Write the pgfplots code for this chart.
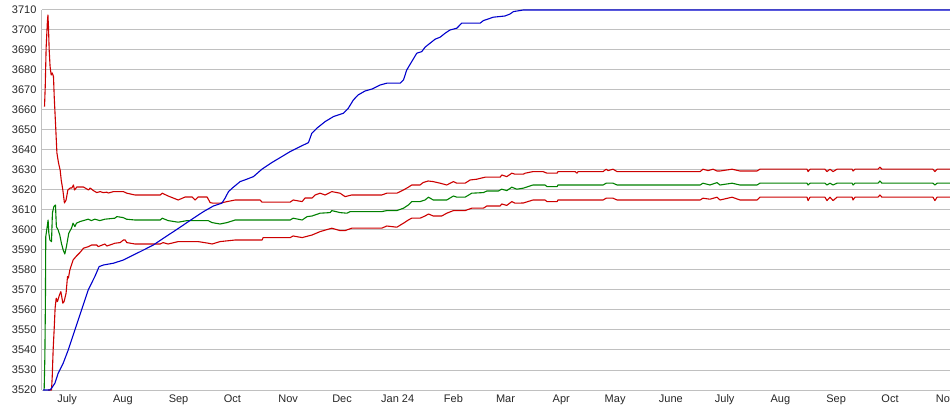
\documentclass[border=0pt]{standalone}
\usepackage{pgfplots}
\pgfplotsset{compat=1.18}
\usepackage{fontspec}
\setmainfont{Liberation Sans}
\definecolor{cred}{RGB}{204,0,0}
\definecolor{cgreen}{RGB}{0,128,0}
\definecolor{cblue}{RGB}{0,0,204}
\definecolor{cgrid}{RGB}{192,192,192}
\begin{document}
\begin{tikzpicture}
\begin{axis}[
  scale only axis, width=908pt, height=380pt,
  xmin=-14, xmax=491.4, ymin=3520, ymax=3710,
  axis x line*=bottom, axis y line*=left,
  axis line style={-, cgrid, line width=1pt},
  ymajorgrids, grid style={cgrid, line width=1pt},
  tick style={draw=none},
  ytick={3520,3530,...,3710},
  xtick={0,31,62,92,123,153,184,215,244,275,305,336,366,397,428,458,489},
  xticklabels={July,Aug,Sep,Oct,Nov,Dec,Jan 24,Feb,Mar,Apr,May,June,July,Aug,Sep,Oct,Nov},
  /pgf/number format/assume math mode=true,
  yticklabel={\pgfmathprintnumber[fixed,1000 sep={}]{\tick}},
  ticklabel style={font=\fontsize{11}{13}\selectfont, text=black!85},
  yticklabel style={xshift=-2pt},
  xticklabel style={yshift=-1pt},
  clip=false,
  every axis plot/.append style={line width=1.1pt, line join=round, mark=none},
]
% upper red
\addplot[cred] coordinates {
(-12.6,3661.7)(-12.2,3671.5)(-11.7,3691)(-11.0,3704.2)(-10.7,3707.5)(-10.4,3701.7)(-10.0,3690)(-9.5,3681.7)(-8.9,3677.5)(-8.3,3678.5)(-7.6,3676.7)(-7.2,3666.7)(-6.3,3650)(-5.7,3638.5)(-4.8,3633.5)(-3.9,3630)(-3.3,3625)(-2.4,3620)(-1.5,3613.5)(-0.6,3615)(0.4,3620)(1.7,3621)(2.6,3621)(3.5,3622.5)(4.1,3620)(5.4,3621.5)(9.1,3621.5)(11.9,3620)(12.8,3621)(14.6,3619.7)(16.5,3618.7)(18.4,3619.2)(20.0,3618.7)(22.1,3618.9)(23.0,3618.5)(25.8,3619.2)(31.3,3619.2)(33.2,3618.4)(37.8,3617.5)(51.8,3617.5)(52.9,3618.4)(56.2,3617)(61.8,3615)(65.7,3616.5)(69.6,3616.5)(71.2,3615)(72.9,3616.5)(77.9,3616.5)(79.6,3613.7)(81.2,3613.4)(85.1,3613.4)(89.0,3614.2)(93.5,3615)(107.4,3615)(108.5,3613.9)(124.1,3613.9)(125.8,3615)(130.8,3614.2)(132.4,3616)(136.3,3616)(138.0,3617.5)(140.8,3618.4)(143.6,3617.5)(147.3,3619.2)(151.9,3618.4)(154.7,3616.7)(158.4,3617.5)(175.1,3617.5)(177.9,3618.4)(183.5,3618.4)(187.2,3620)(189.9,3621.4)(191.8,3622.5)(196.4,3622.5)(198.1,3623.7)(200.9,3624.5)(203.7,3624.2)(207.6,3623.4)(211.3,3622.5)(215.0,3624.2)(216.9,3623.4)(221.5,3623.4)(224.3,3625)(228.0,3625.4)(232.6,3626.4)(241.0,3626.4)(241.9,3627.5)(244.7,3626.7)(247.5,3628.4)(249.3,3627.9)(253.9,3627.9)(254.9,3628.4)(259.3,3629.2)(264.9,3629.2)(267.1,3628.4)(272.7,3628.4)(273.2,3629.2)(282.7,3629.2)(283.8,3628.4)(284.4,3629.2)(298.3,3629.2)(300.0,3630.4)(301.1,3629.7)(303.8,3630.4)(306.1,3629.2)(352.3,3629.2)(353.9,3630.4)(356.7,3629.7)(359.5,3630.4)(361.7,3629.5)(363.4,3629.5)(370.1,3630.4)(374.5,3629.5)(384.0,3629.5)(385.6,3630.4)(411.8,3630.4)(412.4,3629.2)(413.5,3630.4)(421.8,3630.4)(422.9,3629.2)(424.6,3630.4)(426.3,3629.2)(428.5,3630.4)(436.9,3630.4)(437.4,3629.5)(438.5,3630.4)(451.3,3630.4)(452.4,3631.4)(453.5,3630.4)(481.9,3630.4)(483.0,3629.2)(484.2,3630.4)(491.4,3630.4)
};
% green
\addplot[cgreen] coordinates {
(-12.8,3520)(-12.4,3536.7)(-12.1,3563.5)(-11.9,3596.7)(-11.1,3601.7)(-10.6,3605)(-10.2,3598.5)(-9.6,3595)(-8.7,3594.2)(-8.2,3608.5)(-7.4,3611.7)(-6.5,3612.5)(-6.0,3601.7)(-5.0,3600)(-4.1,3597.5)(-3.2,3593.4)(-2.2,3590)(-1.3,3588)(-0.4,3591.7)(0.9,3598.4)(2.4,3600.9)(3.3,3603.4)(4.3,3601.7)(5.2,3603.4)(7.1,3604.2)(11.7,3605.4)(13.5,3604.7)(15.4,3605.4)(18.2,3604.7)(21.0,3605.4)(26.5,3605.9)(27.7,3606.7)(31.2,3606.2)(33.0,3605.4)(37.7,3605)(51.8,3605)(52.9,3605.9)(56.2,3604.7)(61.8,3603.9)(66.8,3604.7)(72.9,3604.7)(78.5,3604.7)(80.7,3603.7)(85.1,3603)(89.0,3603.7)(93.5,3605)(124.1,3605)(125.8,3605.9)(130.8,3605)(133.6,3606.7)(136.3,3607)(140.8,3608.4)(146.4,3608.7)(147.3,3609.7)(151.9,3608.7)(155.7,3608.4)(157.5,3609.2)(175.1,3609.2)(177.9,3609.7)(183.5,3609.7)(187.2,3610.9)(189.9,3612.5)(191.8,3614.2)(196.4,3614.2)(199.2,3615)(201.1,3616.4)(203.8,3615)(211.3,3615)(215.0,3617)(216.9,3616.4)(221.5,3616.4)(225.2,3618.4)(231.7,3618.7)(233.6,3619.5)(240.0,3619.5)(241.9,3620.4)(244.7,3619.7)(247.5,3621.4)(250.3,3620.4)(253.8,3620.9)(259.3,3622.5)(266.0,3622.5)(267.1,3621.7)(272.7,3621.7)(273.2,3622.5)(298.3,3622.5)(300.0,3623.4)(303.8,3623.4)(306.1,3622.5)(352.3,3622.5)(353.9,3623.4)(357.8,3622.5)(361.7,3623.7)(363.4,3622.5)(370.1,3623.4)(374.5,3622.5)(384.0,3622.5)(385.6,3623.4)(411.8,3623.4)(412.4,3622.5)(413.5,3623.4)(421.8,3623.4)(422.9,3622.5)(424.6,3623.4)(426.3,3622.5)(428.5,3623.4)(436.9,3623.4)(437.4,3622.5)(438.5,3623.4)(451.3,3623.4)(452.4,3624.5)(453.5,3623.4)(481.9,3623.4)(483.0,3622.5)(484.2,3623.4)(491.4,3623.4)
};
% lower red
\addplot[cred] coordinates {
(-10.6,3520)(-8.7,3520)(-8.3,3526.7)(-7.8,3540)(-7.2,3550.9)(-6.7,3560.9)(-6.1,3565.9)(-5.4,3564.2)(-4.3,3567.5)(-3.5,3569.2)(-2.4,3563.4)(-1.7,3564.2)(-0.6,3568.4)(0.2,3576.7)(0.7,3576)(1.5,3580)(2.4,3582.5)(3.3,3585)(5.2,3587)(7.1,3588.7)(9.1,3590.9)(11.9,3591.7)(13.6,3592.5)(16.5,3592.5)(17.3,3591.7)(21.0,3593)(22.1,3592)(26.7,3593.4)(29.5,3593.7)(31.3,3595)(32.3,3595)(33.2,3593.7)(37.8,3593)(51.8,3593)(53.4,3593.7)(56.2,3593)(61.8,3594.2)(72.9,3594.2)(78.5,3593.4)(80.7,3593)(85.1,3594.2)(93.5,3595)(108.5,3595)(109.1,3596.2)(124.1,3596.2)(125.8,3597)(130.8,3596.2)(136.3,3597.5)(140.8,3599.2)(147.3,3600.9)(151.9,3599.7)(154.7,3599.7)(158.4,3600.9)(175.1,3600.9)(177.9,3602)(183.5,3601.4)(187.2,3603.4)(189.9,3605)(191.8,3605.9)(196.4,3605.9)(199.2,3607)(201.1,3608)(203.8,3607)(208.5,3607)(211.3,3608.4)(215.0,3609.7)(221.5,3609.7)(225.2,3610.9)(231.7,3610.9)(233.6,3612)(241.0,3612)(241.9,3613)(244.7,3612.3)(247.5,3614.2)(249.3,3613.4)(253.9,3613.5)(259.3,3615)(266.0,3615)(267.1,3614.2)(272.7,3614.2)(273.2,3615)(298.3,3615)(300.0,3615.9)(303.8,3615.9)(306.1,3615)(352.3,3615)(353.9,3615.9)(357.8,3615.4)(361.7,3616.4)(363.4,3615)(370.1,3616.4)(374.5,3615)(384.0,3615)(385.6,3616.4)(411.8,3616.4)(412.4,3614.7)(413.5,3616.4)(421.8,3616.4)(422.9,3614.7)(424.6,3616.4)(426.3,3614.7)(428.5,3616.4)(436.9,3616.4)(437.4,3615)(438.5,3616.4)(451.3,3616.4)(452.4,3617.5)(453.5,3616.4)(481.9,3616.4)(483.0,3614.7)(484.2,3616.4)(491.4,3616.4)
};
% blue
\addplot[cblue] coordinates {
(-13.4,3520)(-9.6,3520)(-8.6,3521)(-6.8,3523.4)(-5.0,3528.4)(-2.2,3533.4)(0.6,3540)(4.3,3550)(8.0,3560)(11.7,3570)(15.4,3576.7)(17.8,3581.7)(20.2,3582.5)(25.8,3583.4)(31.3,3585)(36.9,3587.5)(42.5,3590)(48.0,3592.5)(53.6,3595.9)(59.2,3599.2)(64.7,3602.5)(70.3,3605.9)(75.9,3609.2)(81.4,3612)(86.1,3613.4)(87.9,3615.9)(89.8,3619.2)(92.5,3621.4)(96.3,3624.2)(100.0,3625.4)(103.7,3626.7)(108.4,3630.4)(113.9,3633.7)(119.5,3636.7)(124.1,3639.2)(129.7,3641.7)(134.3,3643.7)(136.2,3648.4)(139.0,3650.9)(143.6,3654.2)(148.2,3656.7)(153.8,3658.4)(156.5,3660.9)(159.3,3665)(161.9,3667.5)(165.8,3669.5)(169.7,3670.5)(174.2,3672.5)(177.9,3673.4)(185.3,3673.4)(187.2,3675)(189.0,3680)(191.8,3684.2)(194.6,3688.4)(197.4,3689.2)(199.2,3691.4)(202.0,3693.4)(204.8,3695.4)(207.6,3696.4)(210.4,3698.4)(213.1,3700)(216.9,3700.9)(219.6,3703.4)(229.8,3703.4)(231.7,3704.7)(237.2,3706.4)(243.7,3707)(246.5,3708)(248.4,3709.2)(253.9,3710)(491.4,3710)
};
\end{axis}
\pgfresetboundingbox
\path[use as bounding box] (-42pt,-25pt) rectangle (908pt,390pt);
\end{tikzpicture}
\end{document}
